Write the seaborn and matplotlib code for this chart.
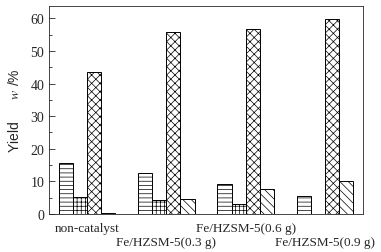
import pandas as pd
import matplotlib
matplotlib.use("Agg")
import matplotlib.pyplot as plt
import seaborn as sns

# yield data
groups = ["non-catalyst", "Fe/HZSM-5(0.3 g)", "Fe/HZSM-5(0.6 g)", "Fe/HZSM-5(0.9 g)"]
series = ["s1", "s2", "s3", "s4"]
s1 = [15.6, 12.5, 9.1, 5.5]
s2 = [5.1, 4.2, 3.0, 0.0]
s3 = [43.7, 55.9, 56.8, 59.8]
s4 = [0.3, 4.5, 7.7, 10.2]
hatches = ["----", "++++", "xxxx", "\\\\\\\\"]

rows = []
for name, vals in zip(series, [s1, s2, s3, s4]):
    for g, v in zip(groups, vals):
        rows.append({"group": g, "series": name, "value": v})
df = pd.DataFrame(rows)

sns.set_style("ticks")
plt.rcParams["font.family"] = ["Liberation Serif", "DejaVu Serif"]
plt.rcParams["hatch.linewidth"] = 0.5
plt.rcParams["mathtext.fontset"] = "stix"

fig = plt.figure(figsize=(3.81, 2.53), dpi=100)
ax = fig.add_axes([49 / 381, 38 / 253, 314 / 381, 208 / 253])

sns.barplot(data=df, x="group", y="value", hue="series", order=groups,
            hue_order=series, width=0.71, palette=["white"] * 4,
            edgecolor="black", linewidth=0.7, legend=False, ax=ax)

for cont, h in zip(ax.containers, hatches):
    for p in cont:
        p.set_hatch(h)

ax.set_xlim(-0.48, 3.48)
ax.set_ylim(0, 63.8)
ax.set_yticks([0, 10, 20, 30, 40, 50, 60])
ax.set_yticks([5, 15, 25, 35, 45, 55], minor=True)
ax.tick_params(axis="y", direction="in", length=4, width=0.6, labelsize=10)
ax.tick_params(axis="y", which="minor", direction="in", length=2.5, width=0.6)
ax.tick_params(axis="x", length=0, labelsize=9.5)
ax.set_xticks(range(4))
ax.set_xticklabels(groups)
# staggered labels: odd groups sit on a second row
for i, t in enumerate(ax.xaxis.get_major_ticks()):
    t.set_pad(16 if i % 2 else 6)
for sp in ax.spines.values():
    sp.set_visible(True)
    sp.set_linewidth(0.6)

ax.set_xlabel("")
ax.set_ylabel("Yield      $w$ /%", fontsize=10, family="Liberation Sans", labelpad=6)

fig.savefig("out.png", dpi=100)
